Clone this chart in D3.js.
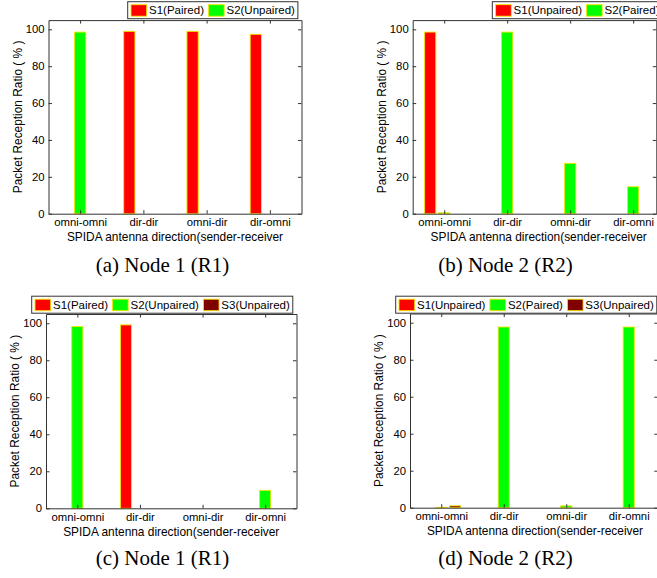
<!DOCTYPE html>
<meta charset="utf-8">
<head>
    <title>SPIDA packet reception ratio</title>
    <style>
        body { margin: 0; background: #fff; }
        svg { display: block; }
        text { font-family: "Liberation Sans", Arial, sans-serif; fill: #000; }
    </style>
</head>
<body>
    <svg width="657" height="578"></svg>
    <script src="https://d3js.org/d3.v7.min.js"></script>
    <script>
        var categories = ["omni-omni", "dir-dir", "omni-dir", "dir-omni"];
        var yTicks = [0, 20, 40, 60, 80, 100];

        // (a) Node 1 (R1)
        var aS1Paired = [0, 98.9, 98.9, 97.3];
        var aS2Unpaired = [98.5, 0, 0, 0];
        // (b) Node 2 (R2)
        var bS1Unpaired = [98.5, 0, 0, 0];
        var bS2Paired = [0.5, 98.5, 27.3, 14.6];
        // (c) Node 1 (R1), three senders
        var cS1Paired = [0, 99.1, 0, 0];
        var cS2Unpaired = [98.2, 0, 0, 9.7];
        var cS3Unpaired = [0, 0, 0, 0];
        // (d) Node 2 (R2), three senders
        var dS1Unpaired = [0, 0, 0, 0];
        var dS2Paired = [0.2, 97.7, 1.0, 97.7];
        var dS3Unpaired = [1.0, 0, 0, 0];

        var legendA = ["S1(Paired)", "S2(Unpaired)"];
        var legendB = ["S1(Unpaired)", "S2(Paired)"];
        var legendC = ["S1(Paired)", "S2(Unpaired)", "S3(Unpaired)"];
        var legendD = ["S1(Unpaired)", "S2(Paired)", "S3(Unpaired)"];
        var captions = ["(a) Node 1 (R1)", "(b) Node 2 (R2)", "(c) Node 1 (R1)", "(d) Node 2 (R2)"];

        var xTitle = "SPIDA antenna direction(sender-receiver";
        var yTitle = "Packet Reception Ratio ( % )";

        var seriesColors = ["#ff0000", "#00ff00", "#800000"];
        var edgeColor = "#f2e600";
        var axisColor = "#333";

        var svg = d3.select("svg");

        // xMax < 4.5 where the figure was cropped on the right
        var panels = [
            {left: 48.5, right: 301.5, xMax: 4.5, top: 20.1, bottom: 213.7, series: [aS1Paired, aS2Unpaired], names: legendA,
                legendX: 127.7, legendY: 1.7, caption: captions[0], capX: 162.5, capY: 272},
            {left: 412.7, right: 656.3, xMax: 4.367, top: 20.1, bottom: 213.7, series: [bS1Unpaired, bS2Paired], names: legendB,
                legendX: 492.3, legendY: 1.7, caption: captions[1], capX: 505.5, capY: 272},
            {left: 46, right: 296.5, xMax: 4.5, top: 314, bottom: 508.3, series: [cS1Paired, cS2Unpaired, cS3Unpaired], names: legendC,
                legendX: 31.7, legendY: 296.2, caption: captions[2], capX: 162.5, capY: 565},
            {left: 410, right: 657.8, xMax: 4.465, top: 313.5, bottom: 507.7, series: [dS1Unpaired, dS2Paired, dS3Unpaired], names: legendD,
                legendX: 395.7, legendY: 296.2, caption: captions[3], capX: 505.5, capY: 565}
        ];

        // matlab grouped bar: slots -1, 0, +1 around the category centre
        var slotStep = 0.2222,
            barWidth = 0.1778;

        panels.forEach(function(p) {
            var g = svg.append("g");

            var x = d3.scaleLinear().domain([0.5, p.xMax]).range([p.left, p.right]);
            var y = d3.scaleLinear().domain([0, 105]).range([p.bottom, p.top]);

            p.series.forEach(function(values, s) {
                g.append("g").selectAll("rect")
                    .data(values)
                    .enter().append("rect")
                    .attr("x", function(d, i) { return x(i + 1 + (s - 1) * slotStep - barWidth / 2); })
                    .attr("width", x(1 + barWidth) - x(1))
                    .attr("y", function(d) { return y(d); })
                    .attr("height", function(d) { return y(0) - y(d); })
                    .attr("fill", seriesColors[s])
                    .attr("stroke", edgeColor)
                    .attr("stroke-width", 0.9);
            });

            var left = g.append("g")
                .attr("transform", "translate(" + p.left + ",0)")
                .call(d3.axisLeft(y).tickValues(yTicks).tickSizeInner(-3.5).tickSizeOuter(0).tickPadding(4));
            var right = g.append("g")
                .attr("transform", "translate(" + p.right + ",0)")
                .call(d3.axisRight(y).tickValues(yTicks).tickSizeInner(-3.5).tickSizeOuter(0).tickFormat(""));
            var top = g.append("g")
                .attr("transform", "translate(0," + p.top + ")")
                .call(d3.axisTop(x).tickValues([1, 2, 3, 4]).tickSizeInner(-3.5).tickSizeOuter(0).tickFormat(""));
            var bottom = g.append("g")
                .attr("transform", "translate(0," + p.bottom + ")")
                .call(d3.axisBottom(x).tickValues([1, 2, 3, 4]).tickSizeInner(-3.5).tickSizeOuter(0).tickPadding(4.5)
                    .tickFormat(function(d) { return categories[d - 1]; }));

            [left, right, top, bottom].forEach(function(a) {
                a.selectAll("path, line").attr("stroke", axisColor);
                a.selectAll("text").attr("font-family", "Liberation Sans, Arial, sans-serif")
                    .attr("font-size", 11.3).attr("fill", "#000");
            });

            g.append("text")
                .attr("x", x(2.5))
                .attr("y", p.bottom + 27.5)
                .attr("text-anchor", "middle")
                .attr("font-size", 11.9)
                .text(xTitle);

            g.append("text")
                .attr("transform", "translate(" + (p.left - 31) + "," + ((p.top + p.bottom) / 2) + ") rotate(-90)")
                .attr("dy", "0.35em")
                .attr("text-anchor", "middle")
                .attr("font-size", 11.9)
                .text(yTitle);

            // legend, laid out from the measured text widths
            var leg = g.append("g").attr("transform", "translate(" + p.legendX + "," + p.legendY + ")");
            var box = leg.append("rect")
                .attr("x", 0).attr("y", 0).attr("height", 17)
                .attr("fill", "#fff").attr("stroke", axisColor).attr("stroke-width", 1);
            var cx = 3.3;
            p.names.forEach(function(name, s) {
                leg.append("rect")
                    .attr("x", cx).attr("y", 3)
                    .attr("width", 15.7).attr("height", 11.5)
                    .attr("fill", seriesColors[s])
                    .attr("stroke", edgeColor).attr("stroke-width", 0.9);
                var t = leg.append("text")
                    .attr("x", cx + 18)
                    .attr("y", 12.8)
                    .attr("font-size", 11.5)
                    .text(name);
                cx += 18 + t.node().getComputedTextLength() + 4.5;
            });
            box.attr("width", cx - 1.5);

            svg.append("text")
                .attr("x", p.capX)
                .attr("y", p.capY)
                .attr("text-anchor", "middle")
                .style("font-family", "'Liberation Serif', 'Times New Roman', serif")
                .attr("font-size", 21)
                .text(p.caption);
        });
    </script>
</body>
